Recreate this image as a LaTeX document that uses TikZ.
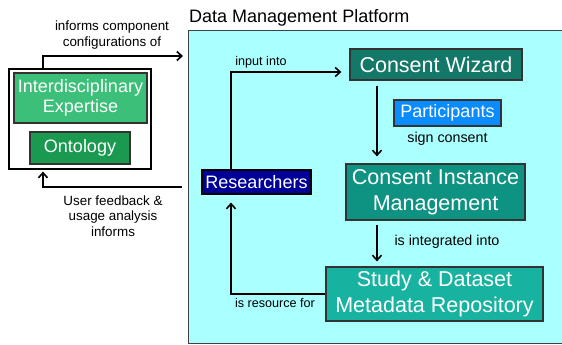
\documentclass[tikz,border=0pt]{standalone}
\usepackage{fontspec}
\setmainfont{Liberation Sans}
\usetikzlibrary{positioning,arrows.meta}
\definecolor{dmpfill}{HTML}{AAFFFF}
\definecolor{wizardteal}{HTML}{137868}
\definecolor{cimteal}{HTML}{0E9282}
\definecolor{studyteal}{HTML}{17B3A0}
\definecolor{partblue}{HTML}{0A8CFF}
\definecolor{resblue}{HTML}{000099}
\definecolor{expgreen}{HTML}{3CBF78}
\definecolor{ontgreen}{HTML}{1A9A50}

\begin{document}
\begin{tikzpicture}[
    x=1pt, y=-1pt,
    every node/.style={align=center, inner sep=0pt},
    bigbox/.style={draw=black!80, line width=1.2pt, text=white,
                   font=\fontsize{21.5}{26}\selectfont},
    smallbox/.style={draw=black!80, line width=1.2pt, text=white,
                     font=\fontsize{18}{20.5}\selectfont},
    lbl/.style={font=\fontsize{14.3}{17}\selectfont},
    tinylbl/.style={font=\fontsize{12.6}{15}\selectfont},
    sidelbl/.style={font=\fontsize{13.4}{16}\selectfont},
    flow/.style={-{Straight Barb[length=5pt,width=9pt]}, line width=1.6pt},
  ]
  \useasboundingbox (0,0) rectangle (562,345);

  %% --- Platform frame ---
  \node[draw=black!75, line width=1pt, fill=dmpfill, anchor=north west,
        minimum width=382pt, minimum height=313pt] (dmp) at (188,30) {};
  \node[anchor=base west, font=\fontsize{18}{21}\selectfont] (title) at (189,23)
    {Data Management Platform};

  %% --- Expertise group ---
  \node[draw=black, line width=1.2pt, fill=white,
        minimum width=142pt, minimum height=100pt] (expert) at (80,119) {};
  \node[smallbox, fill=expgreen, minimum width=133pt, minimum height=50pt]
    (interdis) at (80.5,98) {Interdisciplinary\\Expertise};
  \node[smallbox, fill=ontgreen, minimum width=100pt, minimum height=32pt]
    (onto) at (80,148) {Ontology};

  %% --- Platform components ---
  \node[bigbox, fill=wizardteal, minimum width=172pt, minimum height=31pt]
    (wizard) at (436,64.5) {Consent Wizard};
  \node[smallbox, fill=partblue, minimum width=107pt, minimum height=26pt]
    (participants) at (447.5,113) {Participants};
  \node[bigbox, fill=cimteal, minimum width=179pt, minimum height=56pt]
    (cim) at (435.5,192) {Consent Instance\\Management};
  \node[bigbox, fill=studyteal, minimum width=217pt, minimum height=54pt]
    (study) at (434.5,294) {Study \& Dataset\\Metadata Repository};
  \node[smallbox, draw=black, fill=resblue, minimum width=109pt, minimum height=24pt]
    (researchers) at (256.5,182) {Researchers};

  %% --- Labels ---
  \node[sidelbl] (informlbl) at (112,35) {informs component\\configurations of};
  \node[sidelbl, font=\fontsize{13.4}{15.5}\selectfont] (feedbacklbl) at (113,216)
    {User feedback \&\\usage analysis\\informs};
  \node[tinylbl] (inputlbl) at (261,62) {input into};
  \node[lbl, below=5pt of participants] (signlbl) {sign consent};
  \node[lbl] (integratedlbl) at (447,242) {is integrated into};
  \node[tinylbl] (resourcelbl) at (275,303) {is resource for};

  %% --- Connectors ---
  \coordinate (dmpin) at (183,56);
  \coordinate (dmpout) at (182,187);
  \draw[flow] ([xshift=-37pt]expert.north) |- (dmpin);
  \draw[flow, shorten >=2pt] (dmpout) -| ([xshift=-37pt]expert.south);
  \draw[flow, shorten >=8pt] ([xshift=-25.5pt]researchers.north)
    |- ([yshift=-7.5pt]wizard.west);
  \draw[flow, shorten <=5pt, shorten >=7pt] ([xshift=-59pt]wizard.south)
    -- ([xshift=-59pt]wizard.south |- cim.north);
  \draw[flow, shorten <=4pt, shorten >=5pt] ([xshift=-58.5pt]cim.south)
    -- ([xshift=-58.5pt]cim.south |- study.north);
  \draw[flow, shorten >=8pt] (study.west) -| ([xshift=-25.5pt]researchers.south);
\end{tikzpicture}
\end{document}
